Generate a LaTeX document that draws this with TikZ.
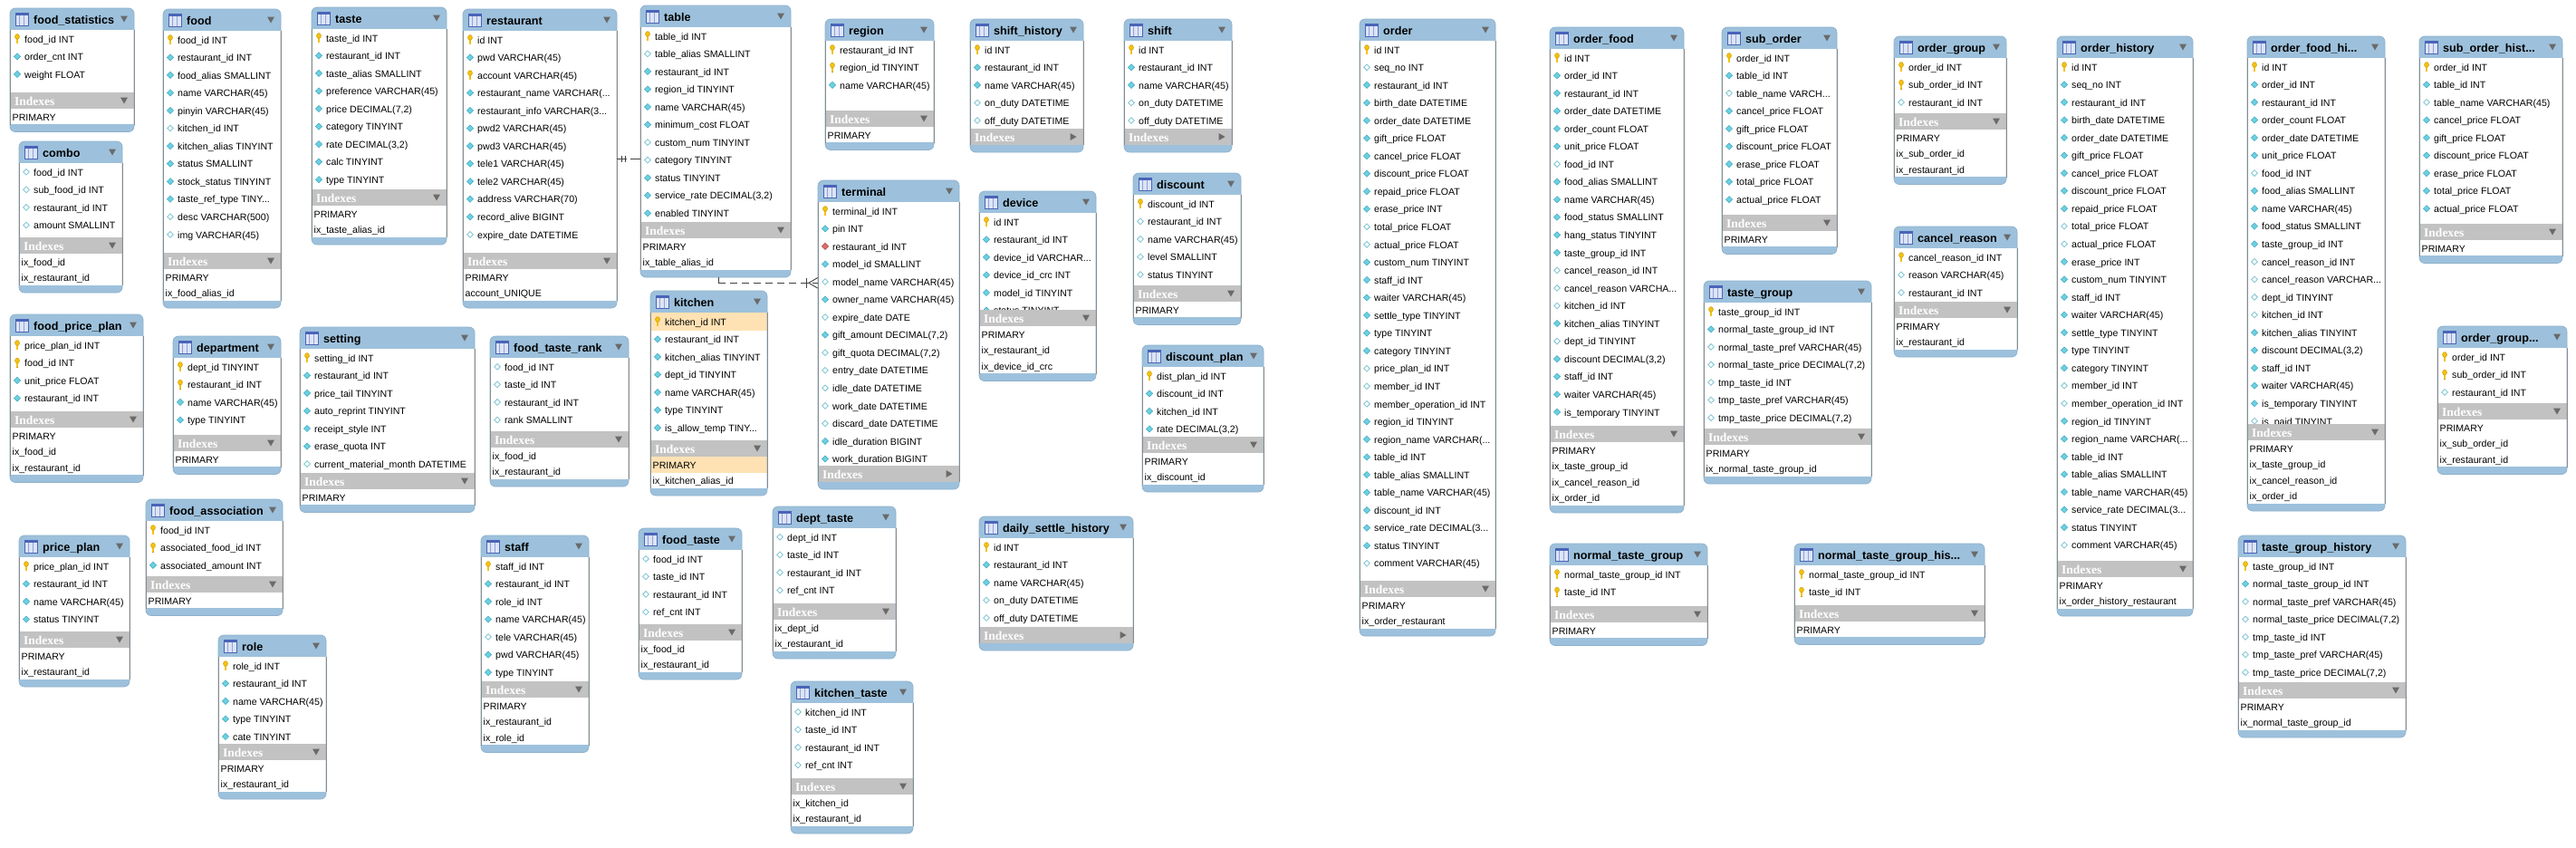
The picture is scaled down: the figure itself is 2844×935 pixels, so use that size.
\documentclass[tikz,border=0pt]{standalone}
\usepackage{fontspec}
\setmainfont{Liberation Sans}
\newfontfamily\idxfont{Liberation Serif}
\usetikzlibrary{fit}
\definecolor{hdr}{HTML}{9DC1DC}
\definecolor{hdrline}{HTML}{8DB0CC}
\definecolor{idxgray}{HTML}{C2C2C2}
\definecolor{sidegray}{HTML}{8A8A8A}
\definecolor{tri}{HTML}{6A6A6A}
\definecolor{keyy}{HTML}{F4C20D}
\definecolor{keyd}{HTML}{C99A05}
\definecolor{dcyan}{HTML}{6DD0E0}
\definecolor{dcyand}{HTML}{3FA9C2}
\definecolor{dhol}{HTML}{86C9D6}
\definecolor{dred}{HTML}{E46A6A}
\definecolor{hil}{HTML}{FFE2B4}
\definecolor{iconb}{HTML}{4A64B8}
\definecolor{iconf}{HTML}{DCE4F6}
\tikzset{
  rowtxt/.style={anchor=base west, inner sep=0pt, font=\fontsize{10.6}{12}\selectfont, text=black},
  ttltxt/.style={anchor=base west, inner sep=0pt, font=\fontsize{12.6}{14}\selectfont\bfseries, text=black},
  idxtxt/.style={anchor=base west, inner sep=0pt, font=\idxfont\fontsize{13.5}{15}\selectfont\bfseries, text=white},
  conn/.style={draw=black!75, line width=0.9pt, dash pattern=on 8pt off 5pt},
  connsolid/.style={draw=black!75, line width=0.9pt},
}
\newcount\rowno
\def\rowh{19.55}
\newcommand\ERick[2]{%
  \fill[keyd] (#1-1.1,#2-1) rectangle (#1+1.1,#2+5.2);
  \fill[keyy] (#1-0.6,#2-1) rectangle (#1+0.6,#2+4.8);
  \filldraw[fill=keyy, draw=keyd, line width=0.4pt] (#1,#2-2.3) ellipse [x radius=2.5, y radius=2.9];}
\newcommand\ERicd[2]{\filldraw[fill=dcyan, draw=dcyand, line width=0.5pt] (#1-3.6,#2) -- (#1,#2-3.6) -- (#1+3.6,#2) -- (#1,#2+3.6) -- cycle;}
\newcommand\ERico[2]{\filldraw[fill=white, draw=dhol, line width=0.9pt] (#1-3.3,#2) -- (#1,#2-3.3) -- (#1+3.3,#2) -- (#1,#2+3.3) -- cycle;}
\newcommand\ERicr[2]{\filldraw[fill=dred, draw=dred!70!black, line width=0.5pt] (#1-3.6,#2) -- (#1,#2-3.6) -- (#1+3.6,#2) -- (#1,#2+3.6) -- cycle;}
\newcommand\tbl[5]{%
  \gdef\TN{#1}\gdef\TX{#2}\gdef\TT{#3}\gdef\TR{#4}%
  \global\rowno=0
  \pgfmathsetmacro\tmp{#3+24}\xdef\TY{\tmp}%
  \fill[hdr, rounded corners=6pt] (#2,#3) rectangle (#4,#3+34);
  \fill[iconf] (#2+6,#3+5) rectangle (#2+20,#3+19);
  \fill[iconb] (#2+6,#3+5) rectangle (#2+20,#3+7.5);
  \draw[iconb!60, line width=0.6pt] (#2+10.7,#3+7.5) -- (#2+10.7,#3+19) (#2+15.3,#3+7.5) -- (#2+15.3,#3+19);
  \draw[iconb, line width=0.8pt] (#2+6,#3+5) rectangle (#2+20,#3+19);
  \node[ttltxt] (#1-title) at (#2+26,#3+17) {#5};
  \fill[tri] (#4-15,#3+8.5) -- (#4-7,#3+8.5) -- (#4-11,#3+15.5) -- cycle;
}
\newcommand\fld[3][white]{%
  \fill[#1] (\TX,\TY) rectangle (\TR,\TY+\rowh);
  \csname ERic#2\endcsname{\TX+8}{\TY+9.8}%
  \global\advance\rowno by 1
  \node[rowtxt] (\TN-r\the\rowno) at (\TX+16,\TY+14) {#3};
  \pgfmathsetmacro\tmp{\TY+\rowh}\xdef\TY{\tmp}%
}
\newcommand\fK[1]{\fld{k}{#1}}
\newcommand\fD[1]{\fld{d}{#1}}
\newcommand\fO[1]{\fld{o}{#1}}
\newcommand\fR[1]{\fld{r}{#1}}
\newcommand\fH[1]{\fld[hil]{k}{#1}}
\newcommand\ibar[2]{%
  \fill[white] (\TX,\TY) rectangle (\TR,#1);
  \fill[idxgray] (\TX,#1) rectangle (\TR,#1+18);
  \global\advance\rowno by 1
  \node[idxtxt] (\TN-r\the\rowno) at (\TX+5,#1+14) {Indexes};
  \if#2d\fill[tri] (\TR-15,#1+5.5) -- (\TR-7,#1+5.5) -- (\TR-11,#1+12.5) -- cycle;
  \else\fill[tri] (\TR-14.5,#1+5) -- (\TR-14.5,#1+13) -- (\TR-7.5,#1+9) -- cycle;\fi
  \pgfmathsetmacro\tmp{#1+18}\xdef\TY{\tmp}%
}
\newcommand\ix[2][white]{%
  \fill[#1] (\TX,\TY) rectangle (\TR,\TY+17.5);
  \global\advance\rowno by 1
  \node[rowtxt] (\TN-r\the\rowno) at (\TX+2.5,\TY+13) {#2};
  \pgfmathsetmacro\tmp{\TY+17.5}\xdef\TY{\tmp}%
}
\newcommand\tend{%
  \begin{scope}
  \clip (\TX,\TY) rectangle (\TR,\TY+9);
  \fill[hdr, rounded corners=6pt] (\TX,\TY-10) rectangle (\TR,\TY+8);
  \end{scope}
  \draw[hdrline, line width=0.7pt, rounded corners=6pt] (\TX,\TT) rectangle (\TR,\TY+8);
  \draw[sidegray, line width=0.8pt] (\TX,\TT+24) -- (\TX,\TY) (\TR,\TT+24) -- (\TR,\TY);
  \coordinate (\TN-nw) at (\TX,\TT);
  \coordinate (\TN-se) at (\TR,\TY+8);
  \node[fit=(\TN-nw)(\TN-se), inner sep=0pt] (\TN) {};
}
\begin{document}
\begin{tikzpicture}[x=1pt,y=-1pt]
\useasboundingbox (0,0) rectangle (2844,935);
\fill[white] (0,0) rectangle (2844,935);

\tbl{foodstatistics}{11}{9}{148}{food\_statistics}
\fK{food\_id INT}\fD{order\_cnt INT}\fD{weight FLOAT}
\ibar{102}{d}\ix{PRIMARY}\tend

\tbl{combo}{21}{156}{135}{combo}
\fO{food\_id INT}\fO{sub\_food\_id INT}\fO{restaurant\_id INT}\fO{amount SMALLINT}
\ibar{262}{d}\ix{ix\_food\_id}\ix{ix\_restaurant\_id}\tend

\tbl{foodpriceplan}{11}{347}{158}{food\_price\_plan}
\fK{price\_plan\_id INT}\fK{food\_id INT}\fD{unit\_price FLOAT}\fD{restaurant\_id INT}
\ibar{454}{d}\ix{PRIMARY}\ix{ix\_food\_id}\ix{ix\_restaurant\_id}\tend

\tbl{priceplan}{21}{591}{143}{price\_plan}
\fK{price\_plan\_id INT}\fD{restaurant\_id INT}\fD{name VARCHAR(45)}\fD{status TINYINT}
\ibar{697}{d}\ix{PRIMARY}\ix{ix\_restaurant\_id}\tend

\tbl{food}{180}{10}{310}{food}
\fK{food\_id INT}\fD{restaurant\_id INT}\fD{food\_alias SMALLINT}\fD{name VARCHAR(45)}
\fD{pinyin VARCHAR(45)}\fO{kitchen\_id INT}\fD{kitchen\_alias TINYINT}\fD{status SMALLINT}
\fD{stock\_status TINYINT}\fD{taste\_ref\_type TINY...}\fO{desc VARCHAR(500)}\fO{img VARCHAR(45)}
\ibar{279}{d}\ix{PRIMARY}\ix{ix\_food\_alias\_id}\tend

\tbl{department}{191}{371}{310}{department}
\fK{dept\_id TINYINT}\fK{restaurant\_id INT}\fD{name VARCHAR(45)}\fD{type TINYINT}
\ibar{480}{d}\ix{PRIMARY}\tend

\tbl{foodassociation}{161}{551}{312}{food\_association}
\fK{food\_id INT}\fK{associated\_food\_id INT}\fD{associated\_amount INT}
\ibar{636}{d}\ix{PRIMARY}\tend

\tbl{role}{241}{701}{360}{role}
\fK{role\_id INT}\fD{restaurant\_id INT}\fD{name VARCHAR(45)}\fD{type TINYINT}\fD{cate TINYINT}
\ibar{821}{d}\ix{PRIMARY}\ix{ix\_restaurant\_id}\tend

\tbl{taste}{344}{8}{493}{taste}
\fK{taste\_id INT}\fD{restaurant\_id INT}\fD{taste\_alias SMALLINT}\fD{preference VARCHAR(45)}
\fD{price DECIMAL(7,2)}\fD{category TINYINT}\fD{rate DECIMAL(3,2)}\fD{calc TINYINT}\fD{type TINYINT}
\ibar{209}{d}\ix{PRIMARY}\ix{ix\_taste\_alias\_id}\tend

\tbl{setting}{331}{361}{524}{setting}
\fK{setting\_id INT}\fD{restaurant\_id INT}\fD{price\_tail TINYINT}\fD{auto\_reprint TINYINT}
\fD{receipt\_style INT}\fD{erase\_quota INT}\fO{current\_material\_month DATETIME}
\ibar{522}{d}\ix{PRIMARY}\tend

\tbl{restaurant}{511}{10}{681}{restaurant}
\fK{id INT}\fD{pwd VARCHAR(45)}\fK{account VARCHAR(45)}\fD{restaurant\_name VARCHAR(...}
\fD{restaurant\_info VARCHAR(3...}\fD{pwd2 VARCHAR(45)}\fD{pwd3 VARCHAR(45)}\fD{tele1 VARCHAR(45)}
\fD{tele2 VARCHAR(45)}\fD{address VARCHAR(70)}\fD{record\_alive BIGINT}\fO{expire\_date DATETIME}
\ibar{279}{d}\ix{PRIMARY}\ix{account\_UNIQUE}\tend

\tbl{foodtasterank}{541}{371}{694}{food\_taste\_rank}
\fO{food\_id INT}\fO{taste\_id INT}\fO{restaurant\_id INT}\fO{rank SMALLINT}
\ibar{476}{d}\ix{ix\_food\_id}\ix{ix\_restaurant\_id}\tend

\tbl{staff}{531}{591}{650}{staff}
\fK{staff\_id INT}\fD{restaurant\_id INT}\fD{role\_id INT}\fD{name VARCHAR(45)}
\fO{tele VARCHAR(45)}\fD{pwd VARCHAR(45)}\fD{type TINYINT}
\ibar{752}{d}\ix{PRIMARY}\ix{ix\_restaurant\_id}\ix{ix\_role\_id}\tend

\tbl{table}{707}{6}{873}{table}
\fK{table\_id INT}\fO{table\_alias SMALLINT}\fD{restaurant\_id INT}\fD{region\_id TINYINT}
\fD{name VARCHAR(45)}\fD{minimum\_cost FLOAT}\fO{custom\_num TINYINT}\fO{category TINYINT}
\fD{status TINYINT}\fD{service\_rate DECIMAL(3,2)}\fD{enabled TINYINT}
\ibar{245}{d}\ix{PRIMARY}\ix{ix\_table\_alias\_id}\tend

\tbl{kitchen}{718}{321}{847}{kitchen}
\fH{kitchen\_id INT}\fD{restaurant\_id INT}\fD{kitchen\_alias TINYINT}\fD{dept\_id TINYINT}
\fD{name VARCHAR(45)}\fD{type TINYINT}\fD{is\_allow\_temp TINY...}
\ibar{486}{d}\ix[hil]{PRIMARY}\ix{ix\_kitchen\_alias\_id}\tend

\tbl{foodtaste}{705}{583}{819}{food\_taste}
\fO{food\_id INT}\fO{taste\_id INT}\fO{restaurant\_id INT}\fO{ref\_cnt INT}
\ibar{689}{d}\ix{ix\_food\_id}\ix{ix\_restaurant\_id}\tend

\tbl{region}{911}{21}{1031}{region}
\fK{restaurant\_id INT}\fK{region\_id TINYINT}\fD{name VARCHAR(45)}
\ibar{122}{d}\ix{PRIMARY}\tend

\tbl{terminal}{903}{199}{1059}{terminal}
\fK{terminal\_id INT}\fD{pin INT}\fR{restaurant\_id INT}\fD{model\_id SMALLINT}
\fO{model\_name VARCHAR(45)}\fD{owner\_name VARCHAR(45)}\fO{expire\_date DATE}
\fD{gift\_amount DECIMAL(7,2)}\fO{gift\_quota DECIMAL(7,2)}\fO{entry\_date DATETIME}
\fO{idle\_date DATETIME}\fO{work\_date DATETIME}\fO{discard\_date DATETIME}
\fD{idle\_duration BIGINT}\fD{work\_duration BIGINT}
\ibar{514}{r}\tend

\tbl{depttaste}{853}{559}{989}{dept\_taste}
\fO{dept\_id INT}\fO{taste\_id INT}\fO{restaurant\_id INT}\fO{ref\_cnt INT}
\ibar{666}{d}\ix{ix\_dept\_id}\ix{ix\_restaurant\_id}\tend

\tbl{kitchentaste}{873}{752}{1008}{kitchen\_taste}
\fO{kitchen\_id INT}\fO{taste\_id INT}\fO{restaurant\_id INT}\fO{ref\_cnt INT}
\ibar{859}{d}\ix{ix\_kitchen\_id}\ix{ix\_restaurant\_id}\tend

\tbl{shifthistory}{1071}{21}{1196}{shift\_history}
\fK{id INT}\fD{restaurant\_id INT}\fD{name VARCHAR(45)}\fO{on\_duty DATETIME}\fO{off\_duty DATETIME}
\ibar{142}{r}\tend

\tbl{shift}{1241}{21}{1360}{shift}
\fK{id INT}\fD{restaurant\_id INT}\fD{name VARCHAR(45)}\fO{on\_duty DATETIME}\fO{off\_duty DATETIME}
\ibar{142}{r}\tend

\tbl{device}{1081}{211}{1210}{device}
\fK{id INT}\fD{restaurant\_id INT}\fD{device\_id VARCHAR...}\fD{device\_id\_crc INT}
\fD{model\_id TINYINT}\fD{status TINYINT}
\ibar{342}{d}\ix{PRIMARY}\ix{ix\_restaurant\_id}\ix{ix\_device\_id\_crc}\tend

\tbl{discount}{1251}{191}{1370}{discount}
\fK{discount\_id INT}\fO{restaurant\_id INT}\fO{name VARCHAR(45)}\fO{level SMALLINT}\fO{status TINYINT}
\ibar{315}{d}\ix{PRIMARY}\tend

\tbl{discountplan}{1261}{381}{1395}{discount\_plan}
\fK{dist\_plan\_id INT}\fD{discount\_id INT}\fD{kitchen\_id INT}\fD{rate DECIMAL(3,2)}
\ibar{482}{d}\ix{PRIMARY}\ix{ix\_discount\_id}\tend

\tbl{dailysettle}{1081}{570}{1251}{daily\_settle\_history}
\fK{id INT}\fD{restaurant\_id INT}\fD{name VARCHAR(45)}\fO{on\_duty DATETIME}\fO{off\_duty DATETIME}
\ibar{692}{r}\tend

\tbl{order}{1501}{21}{1651}{order}
\fK{id INT}\fO{seq\_no INT}\fD{restaurant\_id INT}\fD{birth\_date DATETIME}\fD{order\_date DATETIME}
\fD{gift\_price FLOAT}\fD{cancel\_price FLOAT}\fD{discount\_price FLOAT}\fD{repaid\_price FLOAT}
\fD{erase\_price INT}\fO{total\_price FLOAT}\fO{actual\_price FLOAT}\fD{custom\_num TINYINT}
\fD{staff\_id INT}\fD{waiter VARCHAR(45)}\fD{settle\_type TINYINT}\fD{type TINYINT}
\fD{category TINYINT}\fO{price\_plan\_id INT}\fO{member\_id INT}\fO{member\_operation\_id INT}
\fD{region\_id TINYINT}\fD{region\_name VARCHAR(...}\fD{table\_id INT}\fD{table\_alias SMALLINT}
\fD{table\_name VARCHAR(45)}\fD{discount\_id INT}\fD{service\_rate DECIMAL(3...}\fD{status TINYINT}
\fO{comment VARCHAR(45)}
\ibar{641}{d}\ix{PRIMARY}\ix{ix\_order\_restaurant}\tend

\tbl{orderfood}{1711}{30}{1859}{order\_food}
\fK{id INT}\fD{order\_id INT}\fD{restaurant\_id INT}\fD{order\_date DATETIME}\fD{order\_count FLOAT}
\fD{unit\_price FLOAT}\fO{food\_id INT}\fD{food\_alias SMALLINT}\fD{name VARCHAR(45)}
\fD{food\_status SMALLINT}\fD{hang\_status TINYINT}\fD{taste\_group\_id INT}\fO{cancel\_reason\_id INT}
\fO{cancel\_reason VARCHA...}\fO{kitchen\_id INT}\fD{kitchen\_alias TINYINT}\fO{dept\_id TINYINT}
\fD{discount DECIMAL(3,2)}\fD{staff\_id INT}\fD{waiter VARCHAR(45)}\fD{is\_temporary TINYINT}
\fO{is\_paid TINYINT}
\ibar{470}{d}\ix{PRIMARY}\ix{ix\_taste\_group\_id}\ix{ix\_cancel\_reason\_id}\ix{ix\_order\_id}\tend

\tbl{normaltastegroup}{1711}{600}{1885}{normal\_taste\_group}
\fK{normal\_taste\_group\_id INT}\fK{taste\_id INT}
\ibar{669}{d}\ix{PRIMARY}\tend

\tbl{suborder}{1901}{30}{2028}{sub\_order}
\fK{order\_id INT}\fD{table\_id INT}\fO{table\_name VARCH...}\fD{cancel\_price FLOAT}
\fD{gift\_price FLOAT}\fD{discount\_price FLOAT}\fD{erase\_price FLOAT}\fD{total\_price FLOAT}
\fD{actual\_price FLOAT}
\ibar{237}{d}\ix{PRIMARY}\tend

\tbl{ordergroup}{2091}{40}{2215}{order\_group}
\fK{order\_id INT}\fK{sub\_order\_id INT}\fO{restaurant\_id INT}
\ibar{125}{d}\ix{PRIMARY}\ix{ix\_sub\_order\_id}\ix{ix\_restaurant\_id}\tend

\tbl{cancelreason}{2091}{250}{2227}{cancel\_reason}
\fK{cancel\_reason\_id INT}\fO{reason VARCHAR(45)}\fO{restaurant\_id INT}
\ibar{333}{d}\ix{PRIMARY}\ix{ix\_restaurant\_id}\tend

\tbl{tastegroup}{1881}{310}{2066}{taste\_group}
\fK{taste\_group\_id INT}\fD{normal\_taste\_group\_id INT}\fO{normal\_taste\_pref VARCHAR(45)}
\fO{normal\_taste\_price DECIMAL(7,2)}\fO{tmp\_taste\_id INT}\fO{tmp\_taste\_pref VARCHAR(45)}
\fO{tmp\_taste\_price DECIMAL(7,2)}
\ibar{473}{d}\ix{PRIMARY}\ix{ix\_normal\_taste\_group\_id}\tend

\tbl{normaltastegrouphis}{1981}{600}{2191}{normal\_taste\_group\_his...}
\fK{normal\_taste\_group\_id INT}\fK{taste\_id INT}
\ibar{668}{d}\ix{PRIMARY}\tend

\tbl{orderhistory}{2271}{40}{2421}{order\_history}
\fK{id INT}\fD{seq\_no INT}\fD{restaurant\_id INT}\fD{birth\_date DATETIME}\fD{order\_date DATETIME}
\fD{gift\_price FLOAT}\fD{cancel\_price FLOAT}\fD{discount\_price FLOAT}\fD{repaid\_price FLOAT}
\fO{total\_price FLOAT}\fO{actual\_price FLOAT}\fD{erase\_price INT}\fD{custom\_num TINYINT}
\fD{staff\_id INT}\fD{waiter VARCHAR(45)}\fD{settle\_type TINYINT}\fD{type TINYINT}
\fD{category TINYINT}\fO{member\_id INT}\fO{member\_operation\_id INT}\fD{region\_id TINYINT}
\fD{region\_name VARCHAR(...}\fD{table\_id INT}\fD{table\_alias SMALLINT}\fD{table\_name VARCHAR(45)}
\fD{service\_rate DECIMAL(3...}\fD{status TINYINT}\fO{comment VARCHAR(45)}
\ibar{619}{d}\ix{PRIMARY}\ix{ix\_order\_history\_restaurant}\tend

\tbl{orderfoodhi}{2481}{40}{2633}{order\_food\_hi...}
\fK{id INT}\fD{order\_id INT}\fD{restaurant\_id INT}\fD{order\_count FLOAT}\fD{order\_date DATETIME}
\fD{unit\_price FLOAT}\fO{food\_id INT}\fD{food\_alias SMALLINT}\fD{name VARCHAR(45)}
\fD{food\_status SMALLINT}\fD{taste\_group\_id INT}\fO{cancel\_reason\_id INT}\fO{cancel\_reason VARCHAR...}
\fO{dept\_id TINYINT}\fO{kitchen\_id INT}\fD{kitchen\_alias TINYINT}\fD{discount DECIMAL(3,2)}
\fD{staff\_id INT}\fD{waiter VARCHAR(45)}\fD{is\_temporary TINYINT}\fO{is\_paid TINYINT}
\ibar{468}{d}\ix{PRIMARY}\ix{ix\_taste\_group\_id}\ix{ix\_cancel\_reason\_id}\ix{ix\_order\_id}\tend

\tbl{suborderhist}{2671}{40}{2829}{sub\_order\_hist...}
\fK{order\_id INT}\fD{table\_id INT}\fO{table\_name VARCHAR(45)}\fD{cancel\_price FLOAT}
\fD{gift\_price FLOAT}\fD{discount\_price FLOAT}\fD{erase\_price FLOAT}\fD{total\_price FLOAT}
\fD{actual\_price FLOAT}
\ibar{247}{d}\ix{PRIMARY}\tend

\tbl{ordergrouphist}{2691}{360}{2834}{order\_group...}
\fK{order\_id INT}\fK{sub\_order\_id INT}\fO{restaurant\_id INT}
\ibar{445}{d}\ix{PRIMARY}\ix{ix\_sub\_order\_id}\ix{ix\_restaurant\_id}\tend

\tbl{tastegrouphistory}{2471}{591}{2656}{taste\_group\_history}
\fK{taste\_group\_id INT}\fD{normal\_taste\_group\_id INT}\fO{normal\_taste\_pref VARCHAR(45)}
\fO{normal\_taste\_price DECIMAL(7,2)}\fO{tmp\_taste\_id INT}\fO{tmp\_taste\_pref VARCHAR(45)}
\fO{tmp\_taste\_price DECIMAL(7,2)}
\ibar{753}{d}\ix{PRIMARY}\ix{ix\_normal\_taste\_group\_id}\tend

% connectors
\coordinate (c1) at (0,175.4);
\draw[connsolid, dash pattern=on 11pt off 4pt] (restaurant.east |- c1) -- (table.west |- c1);
\draw[connsolid] (restaurant.east |- c1) ++(5,-3.7) -- ++(0,7.4);
\draw[connsolid] (restaurant.east |- c1) ++(9,-3.7) -- ++(0,7.4);

\coordinate (c2) at (793,312.3);
\draw[connsolid] (table.south -| c2) -- (c2);
\draw[conn] (c2) -- (terminal.west |- c2);
\draw[connsolid] (terminal.west |- c2) ++(0,-5.8) -- ++(-10,5.8) -- ++(10,5.8);
\draw[connsolid] (terminal.west |- c2) ++(-12,-5.8) -- ++(0,11.6);
\end{tikzpicture}
\end{document}
